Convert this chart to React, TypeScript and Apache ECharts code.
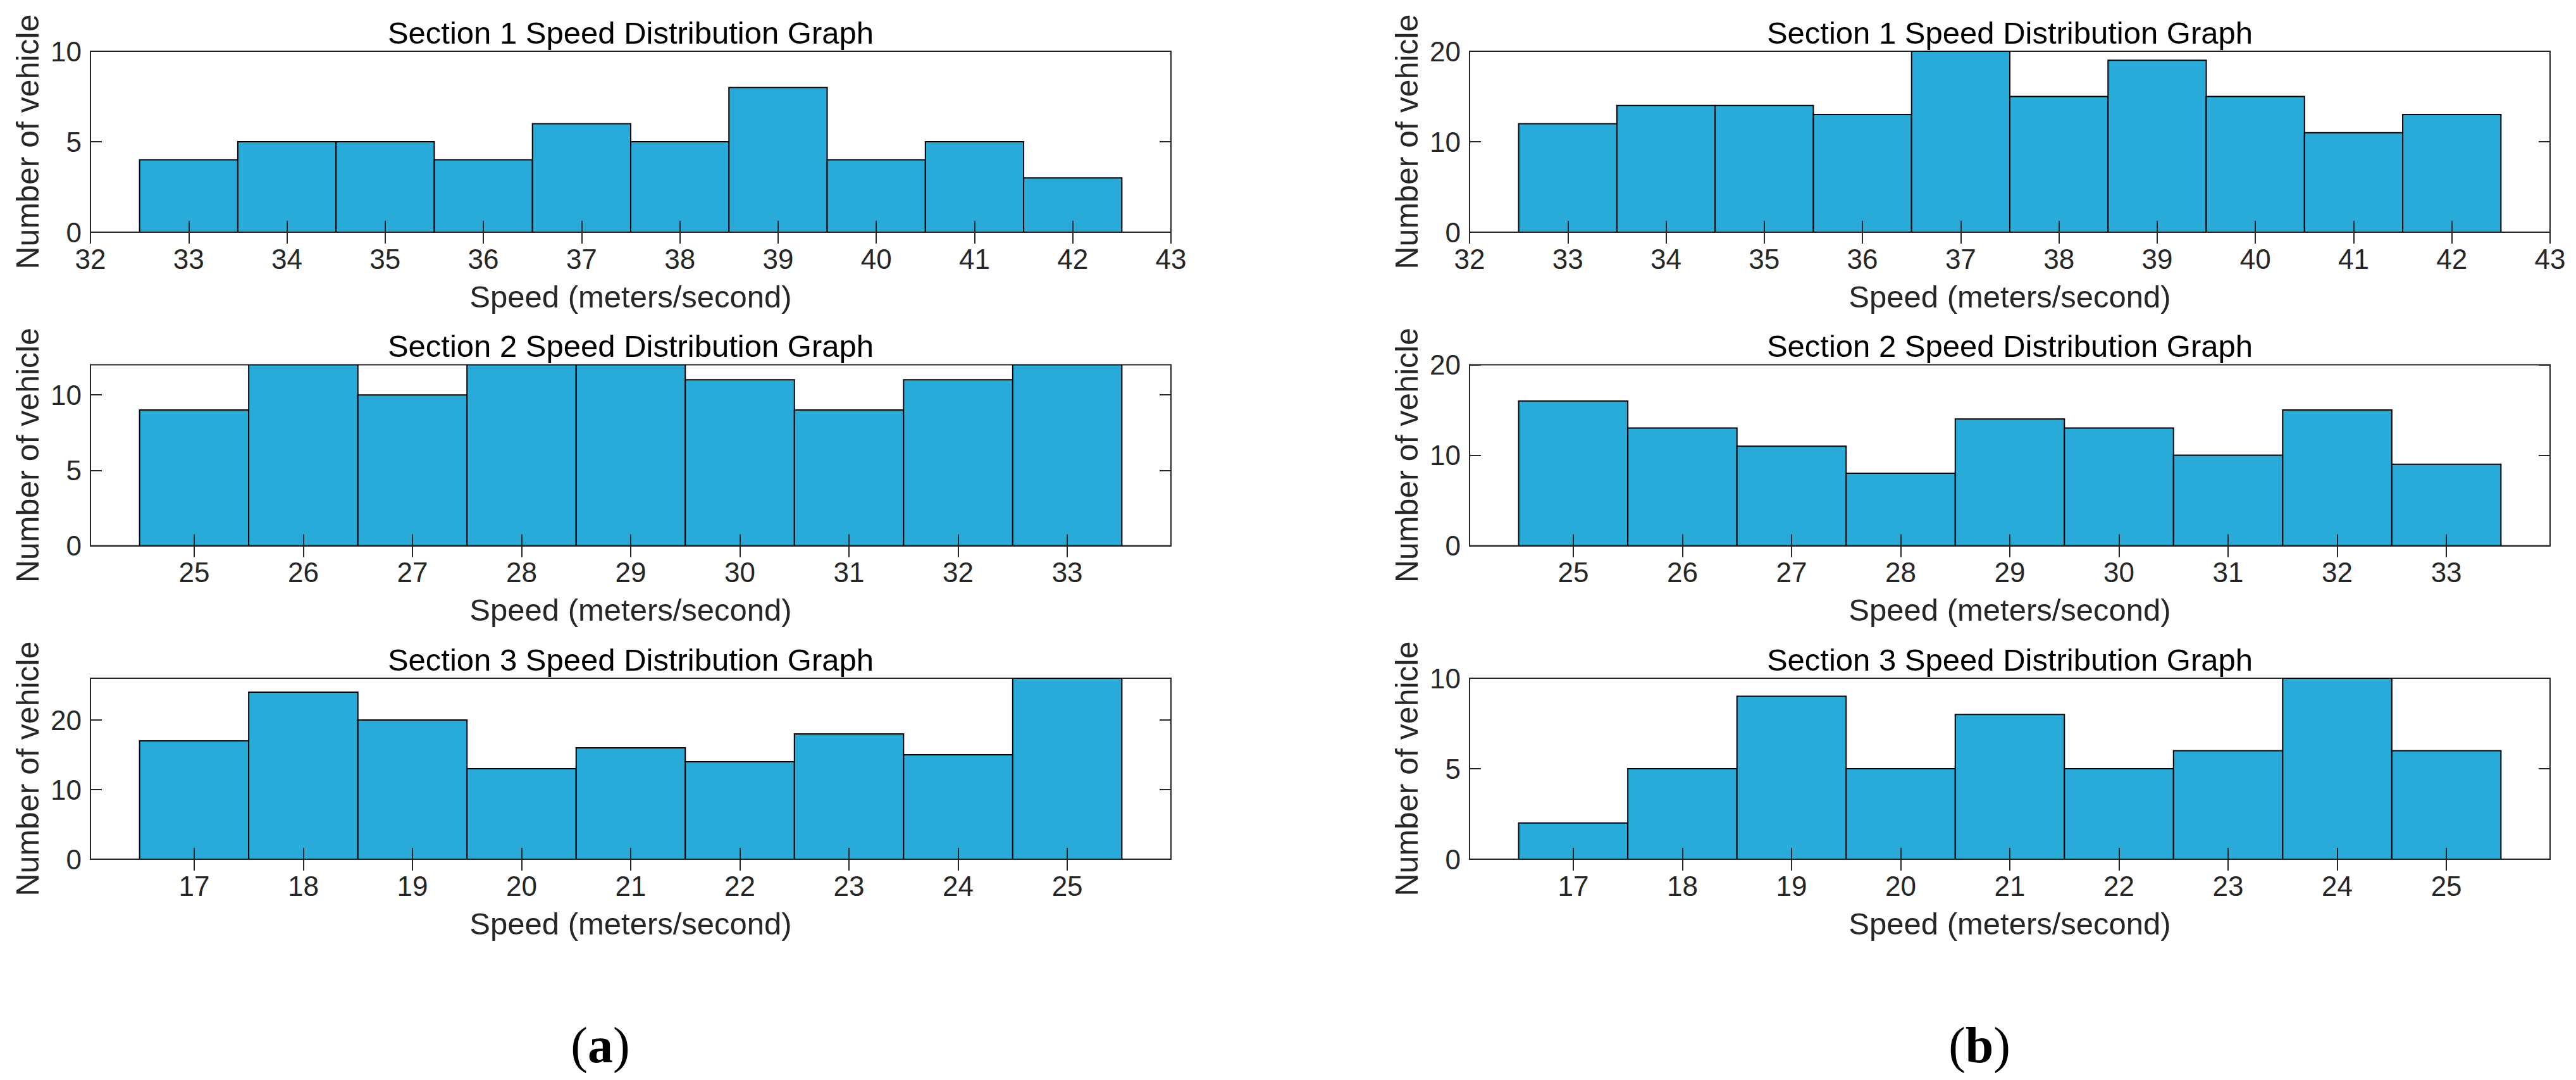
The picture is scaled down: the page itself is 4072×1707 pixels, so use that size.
import React, { useEffect, useRef } from "react";
import * as echarts from "echarts";

// ---- data ----
const section1Speeds = [33, 34, 35, 36, 37, 38, 39, 40, 41, 42];
const section2Speeds = [25, 26, 27, 28, 29, 30, 31, 32, 33];
const section3Speeds = [17, 18, 19, 20, 21, 22, 23, 24, 25];

const aSection1Counts = [4, 5, 5, 4, 6, 5, 8, 4, 5, 3];
const aSection2Counts = [9, 12, 10, 12, 12, 11, 9, 11, 12];
const aSection3Counts = [17, 24, 20, 13, 16, 14, 18, 15, 26];

const bSection1Counts = [12, 14, 14, 13, 20, 15, 19, 15, 11, 13];
const bSection2Counts = [16, 13, 11, 8, 14, 13, 10, 15, 9];
const bSection3Counts = [2, 5, 9, 5, 8, 5, 6, 10, 6];

const section1XTicks = [32, 33, 34, 35, 36, 37, 38, 39, 40, 41, 42, 43];
const section2XTicks = [25, 26, 27, 28, 29, 30, 31, 32, 33];
const section3XTicks = [17, 18, 19, 20, 21, 22, 23, 24, 25];

const section1XRange = [32, 43];
const section2XRange = [24.05, 33.95];
const section3XRange = [16.05, 25.95];

const aYMax = [10, 12, 26];
const bYMax = [20, 20, 10];
const aYTicks = [[0, 5, 10], [0, 5, 10], [0, 10, 20]];
const bYTicks = [[0, 10, 20], [0, 10, 20], [0, 5, 10]];

const sectionTitles = [
  "Section 1 Speed Distribution Graph",
  "Section 2 Speed Distribution Graph",
  "Section 3 Speed Distribution Graph",
];
const xAxisName = "Speed (meters/second)";
const yAxisName = "Number of vehicle";
const panelLabels = ["a", "b"];

// ---- layout / style ----
const colLeft = [143, 2323];
const plotW = 1708;
const rowTop = [81, 576.5, 1072];
const plotH = 286;
const FONT = "'Liberation Sans', Arial, Helvetica, sans-serif";
const AXIS_COLOR = "#262626";
const BAR_COLOR = "#29ABDA";

export default function App() {
  const ref = useRef<HTMLDivElement>(null);

  useEffect(() => {
    if (!ref.current) return;
    const chart = echarts.init(ref.current, undefined, { renderer: "svg" });

    const speeds = [section1Speeds, section2Speeds, section3Speeds];
    const xTicks = [section1XTicks, section2XTicks, section3XTicks];
    const xRanges = [section1XRange, section2XRange, section3XRange];
    const counts = [
      [aSection1Counts, aSection2Counts, aSection3Counts],
      [bSection1Counts, bSection2Counts, bSection3Counts],
    ];
    const yMax = [aYMax, bYMax];
    const yTicks = [aYTicks, bYTicks];

    const grids: any[] = [];
    const xAxes: any[] = [];
    const yAxes: any[] = [];
    const series: any[] = [];
    const titles: any[] = [];

    for (let c = 0; c < 2; c++) {
      for (let r = 0; r < 3; r++) {
        const g = grids.length;
        grids.push({
          left: colLeft[c],
          top: rowTop[r],
          width: plotW,
          height: plotH,
          show: true,
          borderColor: AXIS_COLOR,
          borderWidth: 2,
          backgroundColor: "transparent",
          containLabel: false,
        });
        titles.push({
          text: sectionTitles[r],
          left: colLeft[c] + plotW / 2,
          top: rowTop[r] - 54,
          textAlign: "center",
          padding: 0,
          textStyle: {
            fontFamily: FONT,
            fontSize: 49,
            fontWeight: "normal",
            color: "#000",
          },
        });
        const tickCommon = {
          show: true,
          inside: true,
          length: 18,
          lineStyle: { color: AXIS_COLOR, width: 2 },
        };
        const [xmin, xmax] = xRanges[r];
        xAxes.push({
          gridIndex: g,
          type: "value",
          position: "bottom",
          min: xmin,
          max: xmax,
          z: 5,
          axisLine: { show: true, onZero: false, lineStyle: { color: AXIS_COLOR, width: 2 } },
          axisTick: { ...tickCommon, customValues: xTicks[r] },
          axisLabel: {
            customValues: xTicks[r],
            fontFamily: FONT,
            fontSize: 44,
            color: AXIS_COLOR,
            margin: 20,
            showMinLabel: true,
            showMaxLabel: true,
          },
          splitLine: { show: false },
          name: xAxisName,
          nameLocation: "middle",
          nameGap: 77,
          nameTextStyle: { fontFamily: FONT, fontSize: 49, color: AXIS_COLOR },
        });
        xAxes.push({
          gridIndex: g,
          type: "value",
          position: "top",
          min: xmin,
          max: xmax,
          z: 5,
          axisLine: { show: false },
          axisTick: { ...tickCommon, customValues: xTicks[r] },
          axisLabel: { show: false },
          splitLine: { show: false },
        });
        yAxes.push({
          gridIndex: g,
          type: "value",
          position: "left",
          min: 0,
          max: yMax[c][r],
          z: 5,
          axisLine: { show: true, onZero: false, lineStyle: { color: AXIS_COLOR, width: 2 } },
          axisTick: { ...tickCommon, customValues: yTicks[c][r] },
          axisLabel: {
            customValues: yTicks[c][r],
            fontFamily: FONT,
            fontSize: 44,
            color: AXIS_COLOR,
            margin: 14,
          },
          splitLine: { show: false },
          name: yAxisName,
          nameLocation: "middle",
          nameRotate: 90,
          nameGap: 74,
          nameTextStyle: { fontFamily: FONT, fontSize: 50, color: AXIS_COLOR },
        });
        yAxes.push({
          gridIndex: g,
          type: "value",
          position: "right",
          min: 0,
          max: yMax[c][r],
          z: 5,
          axisLine: { show: false },
          axisTick: { ...tickCommon, customValues: yTicks[c][r] },
          axisLabel: { show: false },
          splitLine: { show: false },
        });
        const data = speeds[r].map((s, k) => [s, counts[c][r][k]]);
        series.push({
          type: "custom",
          xAxisIndex: 2 * g,
          yAxisIndex: 2 * g,
          z: 2,
          clip: true,
          data,
          renderItem: (_params: any, api: any) => {
            const x = api.value(0);
            const v = api.value(1);
            const p0 = api.coord([x - 0.5, v]);
            const p1 = api.coord([x + 0.5, 0]);
            return {
              type: "rect",
              shape: { x: p0[0], y: p0[1], width: p1[0] - p0[0], height: p1[1] - p0[1] },
              style: { fill: BAR_COLOR, stroke: "#000", lineWidth: 2 },
            };
          },
        });
      }
    }

    const labelX = [colLeft[0] + plotW / 2 - 48, colLeft[1] + plotW / 2 - 48];
    const graphic = panelLabels.map((l, i) => ({
      type: "text",
      x: labelX[i],
      y: 1652,
      style: {
        text: "{p|(}{b|" + l + "}{p|)}",
        align: "center",
        verticalAlign: "middle",
        rich: {
          p: { fontFamily: "'Liberation Serif', 'DejaVu Serif', serif", fontSize: 80, fill: "#000", color: "#000" },
          b: {
            fontFamily: "'Liberation Serif', 'DejaVu Serif', serif",
            fontSize: 80,
            fontWeight: "bold",
            fill: "#000",
            color: "#000",
          },
        },
      },
    }));

    chart.setOption({
      animation: false,
      backgroundColor: "#fff",
      title: titles,
      grid: grids,
      xAxis: xAxes,
      yAxis: yAxes,
      series,
      graphic,
    });

    return () => chart.dispose();
  }, []);

  return (
    <div
      ref={ref}
      style={{ position: "absolute", left: 0, top: 0, width: 4072, height: 1707 }}
    />
  );
}
